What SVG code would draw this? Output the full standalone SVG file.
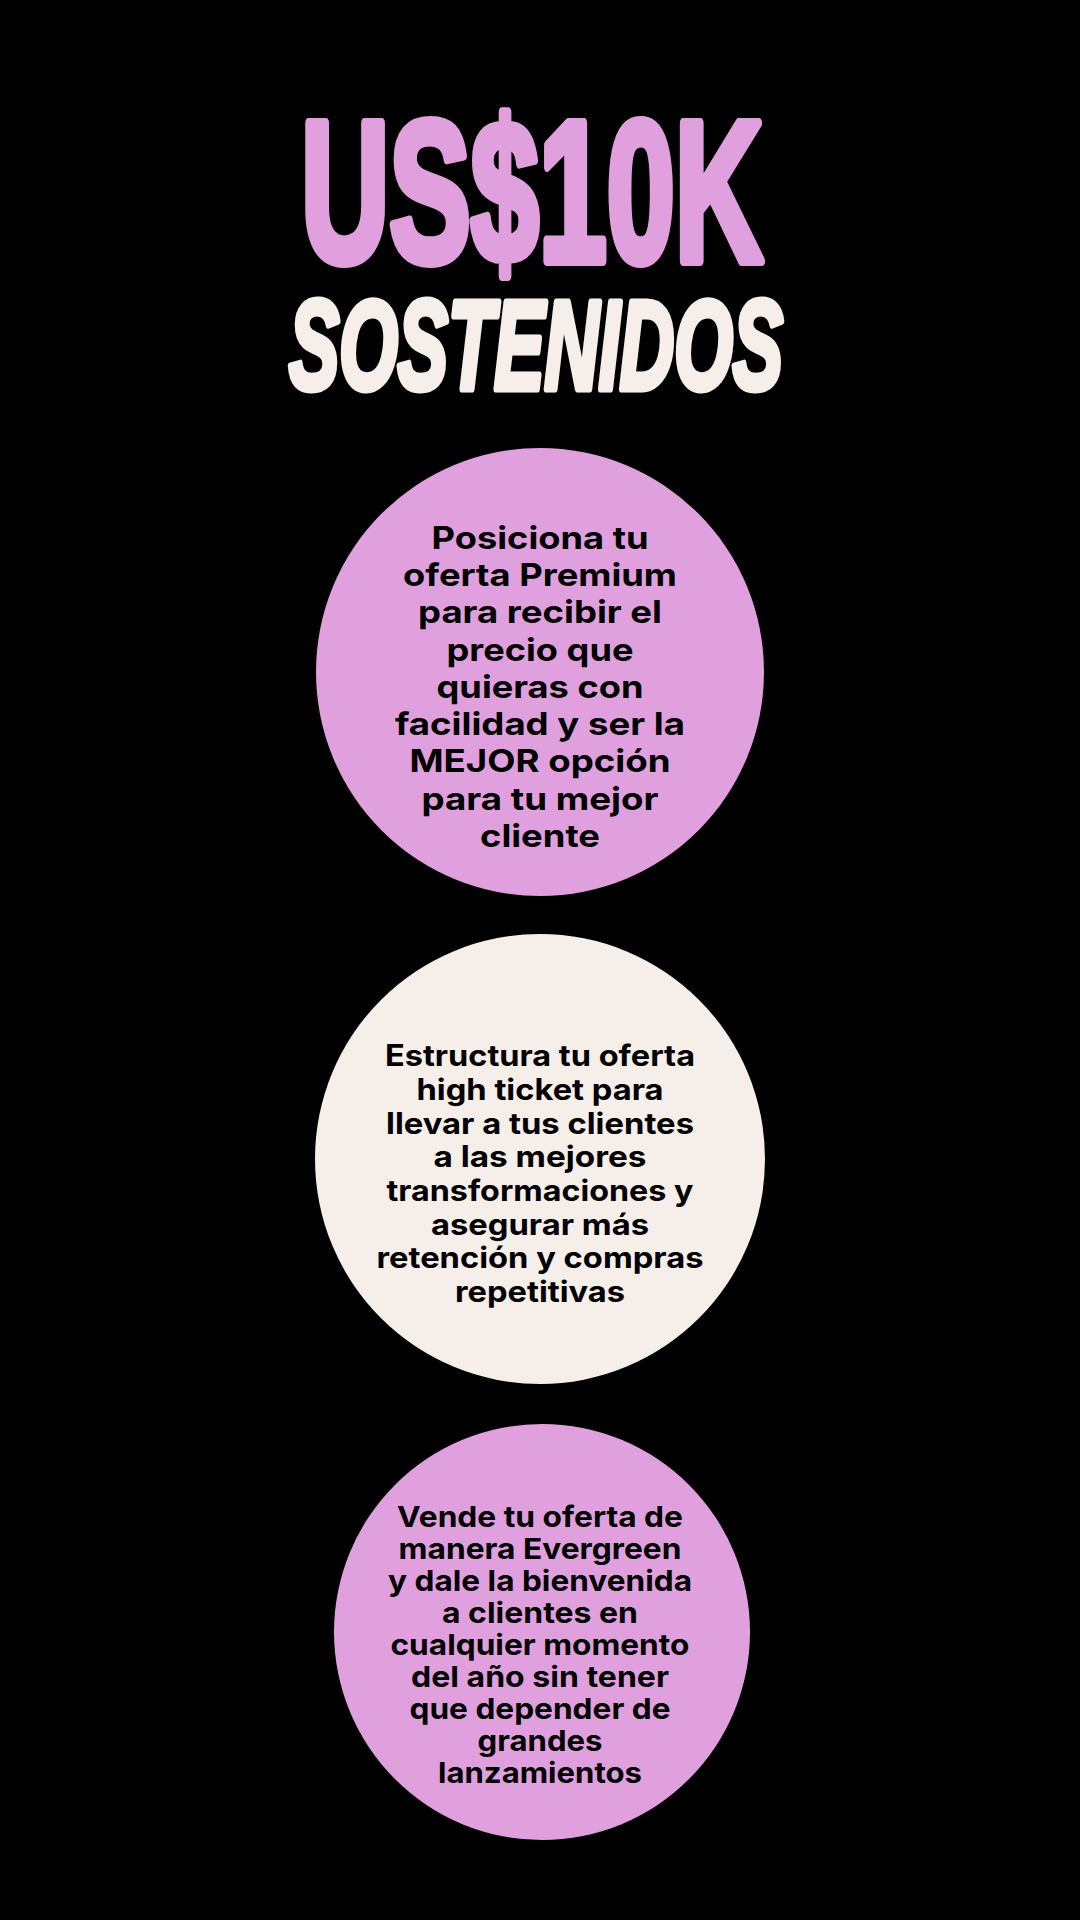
<svg xmlns="http://www.w3.org/2000/svg" width="1080" height="1920" viewBox="0 0 1080 1920">
<style>
.bg{fill:#000000}
.pink{fill:#E0A0DD}
.cream{fill:#F6EEE8}
.t1{font-family:"Liberation Sans",Arial,sans-serif;font-weight:700;fill:#E0A0DD;stroke:#E0A0DD;stroke-width:10;stroke-linejoin:round}
.t2{font-family:"Liberation Sans",Arial,sans-serif;font-weight:700;font-style:italic;fill:#F6EEE8;stroke:#F6EEE8;stroke-width:7;stroke-linejoin:round}
.body{font-family:Inter,"Liberation Sans",Arial,sans-serif;font-weight:700;fill:#000000;text-anchor:middle}
.b1{font-size:31.5px}
.b2{font-size:29.5px}
.b3{font-size:29px}
</style>
<rect class="bg" x="0" y="0" width="1080" height="1920"/>
<g id="title">
<text class="t1" x="532" y="261" font-size="200" text-anchor="middle" textLength="462" lengthAdjust="spacingAndGlyphs">US$10K</text>
<text class="t2" x="536" y="389" font-size="126" text-anchor="middle" textLength="494" lengthAdjust="spacingAndGlyphs">SOSTENIDOS</text>
</g>
<g id="node1">
<circle class="pink" cx="540" cy="672" r="224"/>
<text class="body b1" x="540" y="549" textLength="217" lengthAdjust="spacingAndGlyphs">Posiciona tu</text>
<text class="body b1" x="540" y="586" textLength="274" lengthAdjust="spacingAndGlyphs">oferta Premium</text>
<text class="body b1" x="540" y="623" textLength="244" lengthAdjust="spacingAndGlyphs">para recibir el</text>
<text class="body b1" x="540" y="661" textLength="187" lengthAdjust="spacingAndGlyphs">precio que</text>
<text class="body b1" x="540" y="698" textLength="207" lengthAdjust="spacingAndGlyphs">quieras con</text>
<text class="body b1" x="540" y="735" textLength="290" lengthAdjust="spacingAndGlyphs">facilidad y ser la</text>
<text class="body b1" x="540" y="772" textLength="261" lengthAdjust="spacingAndGlyphs">MEJOR opción</text>
<text class="body b1" x="540" y="810" textLength="237" lengthAdjust="spacingAndGlyphs">para tu mejor</text>
<text class="body b1" x="540" y="847" textLength="120" lengthAdjust="spacingAndGlyphs">cliente</text>
</g>
<g id="node2">
<circle class="cream" cx="540" cy="1159" r="225"/>
<text class="body b2" x="540" y="1066" textLength="310" lengthAdjust="spacingAndGlyphs">Estructura tu oferta</text>
<text class="body b2" x="540" y="1100" textLength="247" lengthAdjust="spacingAndGlyphs">high ticket para</text>
<text class="body b2" x="540" y="1134" textLength="308" lengthAdjust="spacingAndGlyphs">llevar a tus clientes</text>
<text class="body b2" x="540" y="1167" textLength="213" lengthAdjust="spacingAndGlyphs">a las mejores</text>
<text class="body b2" x="540" y="1201" textLength="307" lengthAdjust="spacingAndGlyphs">transformaciones y</text>
<text class="body b2" x="540" y="1235" textLength="218" lengthAdjust="spacingAndGlyphs">asegurar más</text>
<text class="body b2" x="540" y="1268" textLength="327" lengthAdjust="spacingAndGlyphs">retención y compras</text>
<text class="body b2" x="540" y="1302" textLength="170" lengthAdjust="spacingAndGlyphs">repetitivas</text>
</g>
<g id="node3">
<circle class="pink" cx="542" cy="1632" r="208"/>
<text class="body b3" x="540" y="1527" textLength="286" lengthAdjust="spacingAndGlyphs">Vende tu oferta de</text>
<text class="body b3" x="540" y="1559" textLength="283" lengthAdjust="spacingAndGlyphs">manera Evergreen</text>
<text class="body b3" x="540" y="1591" textLength="304" lengthAdjust="spacingAndGlyphs">y dale la bienvenida</text>
<text class="body b3" x="540" y="1623" textLength="196" lengthAdjust="spacingAndGlyphs">a clientes en</text>
<text class="body b3" x="540" y="1655" textLength="299" lengthAdjust="spacingAndGlyphs">cualquier momento</text>
<text class="body b3" x="540" y="1687" textLength="258" lengthAdjust="spacingAndGlyphs">del año sin tener</text>
<text class="body b3" x="540" y="1719" textLength="261" lengthAdjust="spacingAndGlyphs">que depender de</text>
<text class="body b3" x="540" y="1751" textLength="125" lengthAdjust="spacingAndGlyphs">grandes</text>
<text class="body b3" x="540" y="1783" textLength="204" lengthAdjust="spacingAndGlyphs">lanzamientos</text>
</g>
<g id="connectors"></g>
</svg>
